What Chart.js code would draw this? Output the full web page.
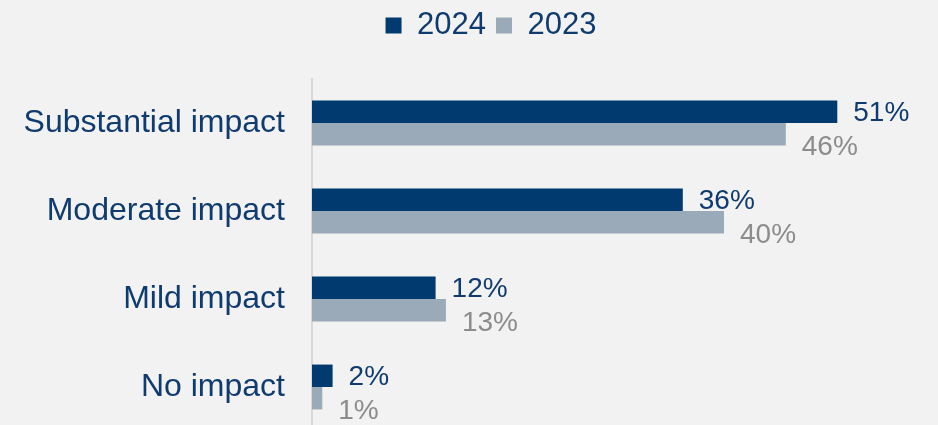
<!DOCTYPE html>
<html>
<head>
<meta charset="utf-8">
<script src="https://cdn.jsdelivr.net/npm/chart.js@4.4.1/dist/chart.umd.min.js"></script>
<style>
  html, body { margin: 0; padding: 0; background: #F2F2F2; overflow: hidden; }
  canvas { display: block; }
</style>
</head>
<body>
<canvas id="impactChart" width="938" height="431"></canvas>
<script>
const categories = ['Substantial impact', 'Moderate impact', 'Mild impact', 'No impact'];
const values2024 = [51, 36, 12, 2];
const values2023 = [46, 40, 13, 1];
const seriesNames = ['2024', '2023'];

const NAVY = '#003A6E';
const GREY_BAR = '#9AAAB8';
const TEXT_NAVY = '#0F3B6E';
const GREY_TEXT = '#8C8C8C';
const FONT = "'Liberation Sans', Arial, sans-serif";

// value labels at the end of each bar
const valueLabels = {
    id: 'valueLabels',
    afterDatasetsDraw(chart) {
        const ctx = chart.ctx;
        const styles = [
            { color: TEXT_NAVY, dy: 2 },
            { color: GREY_TEXT, dy: 13 }
        ];
        ctx.save();
        ctx.font = '28px ' + FONT;
        ctx.textBaseline = 'middle';
        ctx.textAlign = 'left';
        chart.data.datasets.forEach((ds, i) => {
            const meta = chart.getDatasetMeta(i);
            meta.data.forEach((bar, j) => {
                ctx.fillStyle = styles[i].color;
                ctx.fillText(ds.data[j] + '%', bar.x + 16, bar.y + styles[i].dy);
            });
        });
        ctx.restore();
    }
};

// extra room under the legend, and nudge it right a little
const legendSpace = {
    id: 'legendSpace',
    beforeInit(chart) {
        const origFit = chart.legend.fit;
        chart.legend.fit = function () {
            origFit.bind(chart.legend)();
            this.height += 28;
        };
    },
    afterLayout(chart) {
        chart.legend.left += 26;
        chart.legend.right += 26;
    }
};

new Chart(document.getElementById('impactChart'), {
    type: 'bar',
    data: {
        labels: categories,
        datasets: [
            {
                label: seriesNames[0],
                data: values2024,
                backgroundColor: NAVY,
                categoryPercentage: 0.51,
                barPercentage: 1.0
            },
            {
                label: seriesNames[1],
                data: values2023,
                backgroundColor: GREY_BAR,
                categoryPercentage: 0.51,
                barPercentage: 1.0
            }
        ]
    },
    options: {
        indexAxis: 'y',
        responsive: false,
        animation: false,
        layout: {
            padding: { left: 0, right: 8, top: 0, bottom: 0 }
        },
        plugins: {
            legend: {
                position: 'top',
                labels: {
                    boxWidth: 16,
                    boxHeight: 16,
                    padding: 10,
                    color: TEXT_NAVY,
                    font: { family: FONT, size: 31 }
                }
            },
            tooltip: { enabled: false }
        },
        scales: {
            x: {
                display: false,
                min: 0,
                max: 60
            },
            y: {
                grid: { display: false, drawTicks: false },
                border: { display: true, color: '#D9D9D9', width: 2 },
                ticks: {
                    color: TEXT_NAVY,
                    padding: 27,
                    font: { family: FONT, size: 32 }
                },
                afterFit(scale) {
                    // fixed label column; the bars run to the bottom edge
                    scale.width = 312;
                    scale.paddingTop = 0;
                    scale.paddingBottom = 0;
                }
            }
        }
    },
    plugins: [valueLabels, legendSpace]
});
</script>
</body>
</html>
